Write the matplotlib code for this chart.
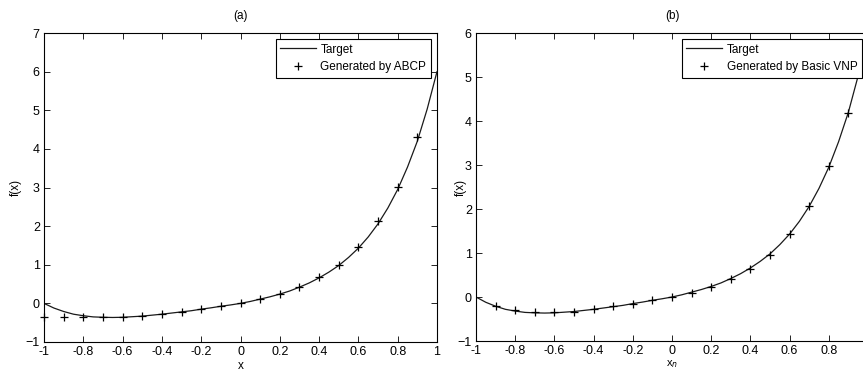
import matplotlib
matplotlib.use('Agg')
import matplotlib.pyplot as plt

# target curve
x_target = [-1.0, -0.95, -0.9, -0.85, -0.8, -0.75, -0.7, -0.65, -0.6, -0.55,
            -0.5, -0.45, -0.4, -0.35, -0.3, -0.25, -0.2, -0.15, -0.1, -0.05,
            0.0, 0.05, 0.1, 0.15, 0.2, 0.25, 0.3, 0.35, 0.4, 0.45,
            0.5, 0.55, 0.6, 0.65, 0.7, 0.75, 0.8, 0.85, 0.9, 0.95, 1.0]
y_target = [0.0, -0.12, -0.21, -0.28, -0.32, -0.35, -0.36, -0.365, -0.36, -0.345,
            -0.33, -0.305, -0.28, -0.25, -0.22, -0.19, -0.15, -0.115, -0.075, -0.04,
            0.0, 0.05, 0.11, 0.17, 0.24, 0.32, 0.42, 0.53, 0.66, 0.81,
            0.98, 1.19, 1.43, 1.72, 2.06, 2.47, 2.95, 3.53, 4.2, 5.03, 6.0]

# (a) ABCP points
x_abcp = [-1.0, -0.9, -0.8, -0.7, -0.6, -0.5, -0.4, -0.3, -0.2, -0.1,
          0.0, 0.1, 0.2, 0.3, 0.4, 0.5, 0.6, 0.7, 0.8, 0.9]
y_abcp = [-0.36, -0.36, -0.36, -0.36, -0.35, -0.32, -0.27, -0.22, -0.15, -0.08,
          0.0, 0.12, 0.25, 0.43, 0.68, 1.0, 1.46, 2.12, 3.02, 4.3]

# (b) Basic VNP points
x_vnp = [-0.9, -0.8, -0.7, -0.6, -0.5, -0.4, -0.3, -0.2, -0.1,
         0.0, 0.1, 0.2, 0.3, 0.4, 0.5, 0.6, 0.7, 0.8, 0.9]
y_vnp = [-0.2, -0.3, -0.35, -0.35, -0.33, -0.27, -0.2, -0.15, -0.07,
         0.0, 0.1, 0.22, 0.4, 0.64, 0.96, 1.43, 2.06, 2.97, 4.18]

xticks_a = [-1, -0.8, -0.6, -0.4, -0.2, 0, 0.2, 0.4, 0.6, 0.8, 1]
xticks_b = [-1, -0.8, -0.6, -0.4, -0.2, 0, 0.2, 0.4, 0.6, 0.8]

plt.rcParams['font.family'] = ['Liberation Sans', 'DejaVu Sans']

W, H = 863, 373
fig = plt.figure(figsize=(W/100, H/100), dpi=100)

# right panel runs off the right edge of the picture, as in the original
ax1 = fig.add_axes([44/W, (H-342)/H, (437-44)/W, (342-33)/H])
ax2 = fig.add_axes([476/W, (H-341)/H, (868-476)/W, (341-33)/H])

panels = [
    (ax1, x_abcp, y_abcp, 'Generated by ABCP', (-1, 7), range(-1, 8), '(a)', 'x', xticks_a, 3),
    (ax2, x_vnp, y_vnp, 'Generated by Basic VNP', (-1, 6), range(-1, 7), '(b)', 'x$_{n}$', xticks_b, -7),
]

for ax, xs, ys, lab, ylim, yt, title, xl, xt, ypad in panels:
    ax.plot(x_target, y_target, color='#1a1a1a', lw=0.9, label='Target')
    ax.plot(xs, ys, '+', color='black', ms=6, mew=0.9, label=lab, clip_on=False)
    ax.set_xlim(-1, 1)
    ax.set_ylim(*ylim)
    ax.set_yticks(list(yt))
    ax.set_xticks(xt)
    ax.set_xticklabels(['%g' % v for v in xt])
    ax.tick_params(direction='in', top=True, right=(ax is ax1), length=4, width=0.6,
                   labelsize=9, pad=3)
    for s in ax.spines.values():
        s.set_linewidth(0.8)
    ax.set_title(title, fontsize=8.5, pad=10)
    ax.set_ylabel('f(x)', fontsize=8.5, labelpad=ypad)
    ax.set_xlabel(xl, fontsize=8 if xl != 'x' else 8.5, labelpad=1)
    leg = ax.legend(loc='upper right', fancybox=False, edgecolor='black',
                    framealpha=1, fontsize=8.5, handlelength=3.0, handletextpad=0.4,
                    borderaxespad=0.5, borderpad=0.4, labelspacing=0.45)
    leg.get_frame().set_linewidth(0.8)

fig.savefig('out.png', dpi=100)
